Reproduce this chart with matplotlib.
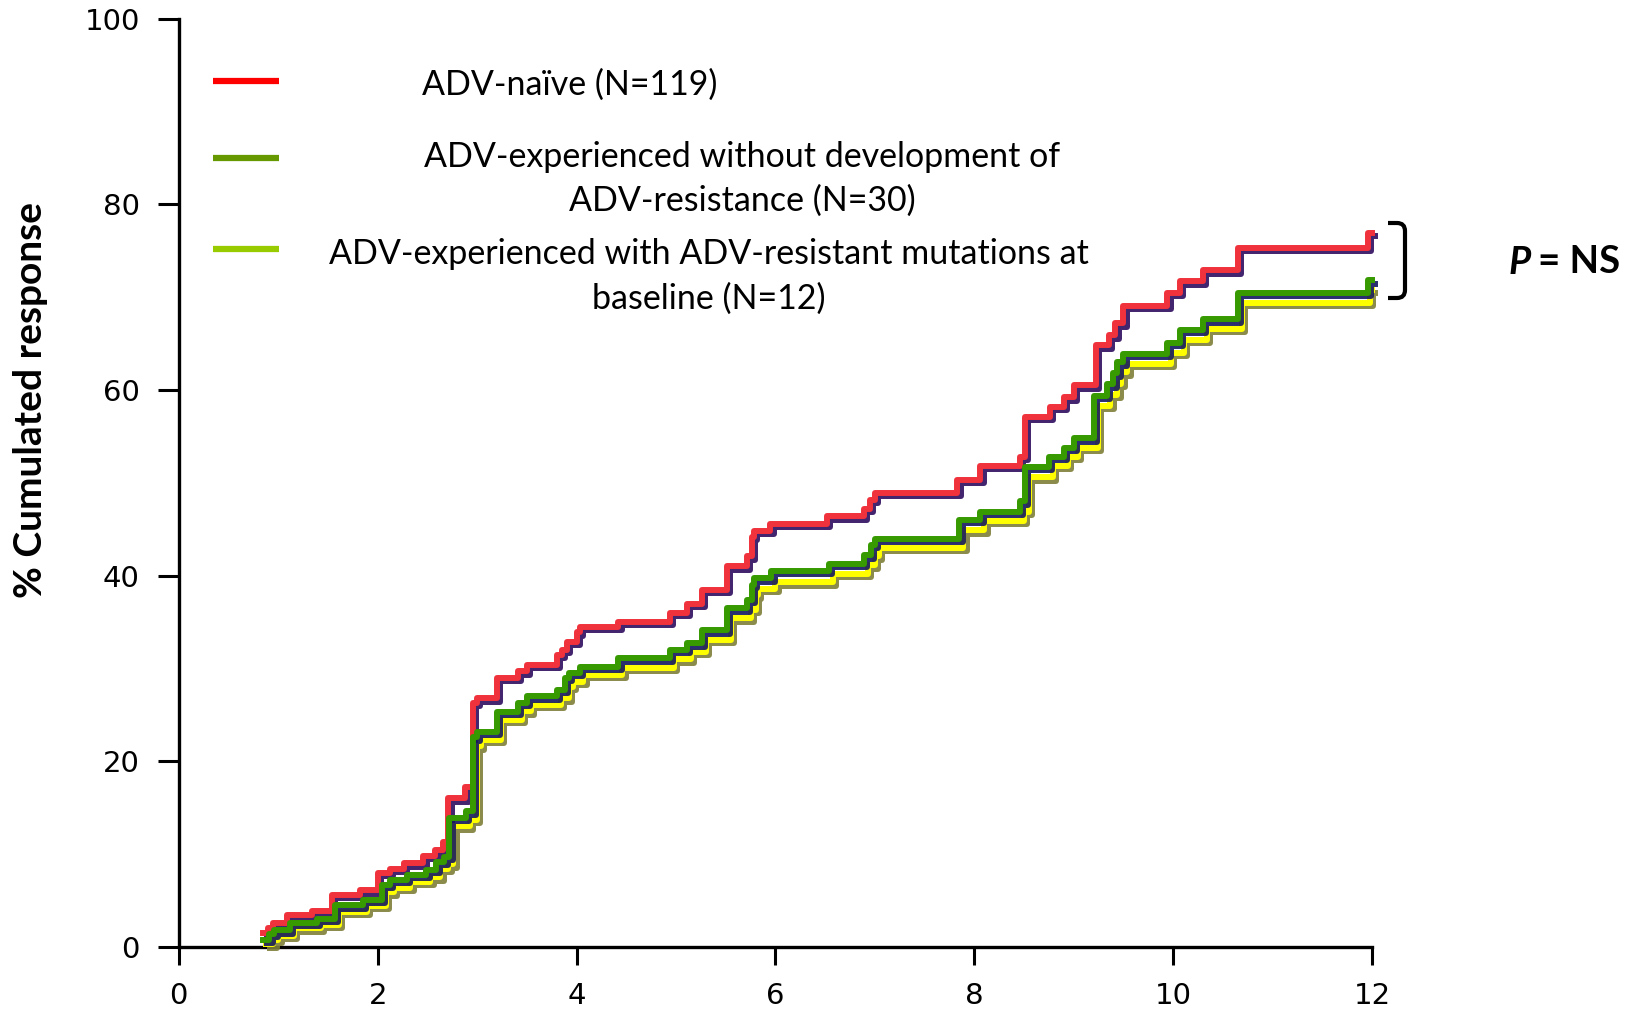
import matplotlib
matplotlib.use("Agg")
import matplotlib.pyplot as plt
import matplotlib.patheffects as pe
from matplotlib.path import Path
from matplotlib.patches import PathPatch
from matplotlib.lines import Line2D

# Cumulative response (%) by month, step curves
naive_t = [0.85, 0.90, 0.95, 1.09, 1.34, 1.54, 1.82, 2.00, 2.12, 2.26, 2.46, 2.58, 2.66,
           2.71, 2.88, 2.96, 3.00, 3.20, 3.41, 3.50, 3.80, 3.85, 3.90, 4.00, 4.03, 4.42,
           4.94, 5.11, 5.26, 5.51, 5.71, 5.76, 5.78, 5.95, 6.52, 6.89, 6.95, 7.00, 7.83,
           8.06, 8.46, 8.51, 8.76, 8.90, 9.00, 9.22, 9.35, 9.42, 9.50, 9.94, 10.07, 10.30,
           10.65, 11.96, 12.00]
naive_pct = [1.5, 2.0, 2.6, 3.4, 3.9, 5.6, 6.1, 8.0, 8.4, 9.0, 9.8, 10.4, 11.3,
             16.0, 17.2, 26.3, 26.8, 29.0, 29.7, 30.4, 31.5, 32.0, 32.9, 33.9, 34.5, 35.0,
             36.0, 37.0, 38.5, 41.0, 42.1, 44.2, 44.8, 45.6, 46.4, 47.2, 48.2, 48.9, 50.3,
             51.8, 52.8, 57.1, 58.2, 59.2, 60.5, 64.8, 65.9, 67.2, 69.1, 70.5, 71.7, 72.9,
             75.3, 76.9, 76.9]

exp_t = [0.85, 0.91, 0.96, 1.12, 1.39, 1.57, 1.85, 2.04, 2.12, 2.29, 2.49, 2.59, 2.67,
         2.72, 2.89, 2.96, 3.00, 3.20, 3.41, 3.50, 3.80, 3.88, 3.92, 4.03, 4.42, 4.94,
         5.11, 5.26, 5.51, 5.71, 5.76, 5.78, 5.96, 6.54, 6.89, 6.96, 7.00, 7.85, 8.06,
         8.46, 8.51, 8.75, 8.90, 9.00, 9.20, 9.33, 9.40, 9.44, 9.50, 9.94, 10.07, 10.30,
         10.65, 11.96, 12.00]
exp_pct = [0.75, 1.4, 1.8, 2.6, 3.0, 4.5, 5.1, 6.7, 7.2, 7.8, 8.3, 9.2, 9.7,
           13.9, 14.6, 22.6, 23.2, 25.3, 26.3, 27.0, 27.7, 29.0, 29.5, 30.2, 31.1, 32.0,
           32.7, 34.1, 36.5, 37.4, 39.0, 39.7, 40.5, 41.3, 42.2, 43.3, 44.0, 46.0, 46.9,
           48.0, 51.7, 52.8, 53.8, 54.8, 59.4, 60.6, 61.8, 63.0, 63.9, 65.1, 66.5, 67.6,
           70.5, 71.8, 71.8]

mut_t = [0.88, 0.95, 1.00, 1.16, 1.43, 1.61, 1.89, 2.08, 2.16, 2.33, 2.53, 2.63, 2.71,
         2.76, 2.93, 3.00, 3.04, 3.24, 3.45, 3.54, 3.84, 3.92, 3.96, 4.07, 4.46, 4.98,
         5.15, 5.30, 5.55, 5.75, 5.80, 5.82, 6.00, 6.58, 6.93, 7.00, 7.04, 7.89, 8.10,
         8.50, 8.55, 8.79, 8.94, 9.04, 9.24, 9.37, 9.44, 9.48, 9.54, 9.98, 10.11, 10.34,
         10.69, 11.98, 12.00]
mut_pct = [0.3, 0.8, 1.2, 2.0, 2.4, 3.8, 4.4, 5.9, 6.4, 7.0, 7.5, 8.4, 8.9,
           13.0, 13.7, 21.6, 22.3, 24.5, 25.4, 26.1, 26.8, 28.0, 28.6, 29.3, 30.1, 31.0,
           31.8, 33.1, 35.4, 36.3, 37.9, 38.6, 39.3, 40.2, 41.1, 42.1, 43.0, 44.9, 45.9,
           46.9, 50.6, 51.8, 52.8, 53.8, 58.3, 59.5, 60.7, 61.9, 62.8, 64.0, 65.4, 66.6,
           69.4, 70.8, 70.8]

labels = ["ADV-naïve (N=119)",
          "ADV-experienced without development of\nADV-resistance (N=30)",
          "ADV-experienced with ADV-resistant mutations at\nbaseline (N=12)"]
legend_colors = ["#ff0000", "#669900", "#99cc00"]

x_ticks = [0, 2, 4, 6, 8, 10, 12]
y_ticks = [0, 20, 40, 60, 80, 100]

TEXT_FONT = ["Lato", "DejaVu Sans"]

W, H = 1630, 1013
fig = plt.figure(figsize=(W / 100, H / 100), dpi=100)
ax = fig.add_axes([178.8 / W, 1 - 947 / H, (1372 - 178.8) / W, (947 - 18.7) / H])


def shadowed(shadow):
    return [pe.SimpleLineShadow(offset=(2.4, -2.4), shadow_color=shadow, alpha=0.9),
            pe.Normal()]


ax.step(naive_t, naive_pct, where="post", color="#f0323c", lw=4.3,
        path_effects=shadowed("#2e0c5e"), zorder=3, clip_on=False)
ax.step(mut_t, mut_pct, where="post", color="#ffff00", lw=4.3,
        path_effects=shadowed("#7e7e38"), zorder=4, clip_on=False)
ax.step(exp_t, exp_pct, where="post", color="#369a00", lw=4.3,
        path_effects=shadowed("#141860"), zorder=5, clip_on=False)

ax.set_xlim(0, 12)
ax.set_ylim(0, 100)
ax.set_xticks(x_ticks)
ax.set_yticks(y_ticks)
for side in ("top", "right"):
    ax.spines[side].set_visible(False)
for side in ("left", "bottom"):
    ax.spines[side].set_linewidth(2.4)
ax.tick_params(axis="y", direction="out", length=15, width=2.2, pad=13, labelsize=21)
ax.tick_params(axis="x", direction="out", length=13, width=2.2, pad=12, labelsize=21)
for lab in ax.get_xticklabels() + ax.get_yticklabels():
    lab.set_fontfamily("DejaVu Sans")

ax.set_ylabel("% Cumulated response", fontsize=28, fontweight="bold",
              family=TEXT_FONT, va="center")
ax.yaxis.set_label_coords((31 - 178.8) / (1372 - 178.8), (947 - 400) / (947 - 18.7))


# legend drawn in figure pixels
def fx(px):
    return px / W


def fy(py):
    return 1 - py / H


legend_rows = [(81, [(570, 85)]), (158, [(742, 157), (742, 201)]),
               (249.5, [(709, 254), (709, 299)])]
for (ly, pos), lab, col in zip(legend_rows, labels, legend_colors):
    fig.add_artist(Line2D([fx(213), fx(279)], [fy(ly), fy(ly)], color=col, lw=4.5,
                          transform=fig.transFigure, solid_capstyle="butt"))
    for (tx, ty), line in zip(pos, lab.split("\n")):
        fig.text(fx(tx), fy(ty), line, ha="center", va="center", fontsize=24.5,
                 family=TEXT_FONT)

# bracket and significance note
bx0, bx1, by0, by1, r = 1388, 1405, 223, 298, 8
verts = [(bx0, by0), (bx1 - r, by0), (bx1, by0), (bx1, by0 + r),
         (bx1, by1 - r), (bx1, by1), (bx1 - r, by1), (bx0, by1)]
codes = [Path.MOVETO, Path.LINETO, Path.CURVE3, Path.CURVE3,
         Path.LINETO, Path.CURVE3, Path.CURVE3, Path.LINETO]
fig.add_artist(PathPatch(Path([(fx(a), fy(b)) for a, b in verts], codes), fill=False,
                         lw=3.0, color="black", transform=fig.transFigure))
fig.text(fx(1531), fy(262), "P", ha="right", va="center", fontsize=27.5,
         fontweight="bold", style="italic", family=TEXT_FONT)
fig.text(fx(1538), fy(262), "= NS", ha="left", va="center", fontsize=27.5,
         fontweight="bold", family=TEXT_FONT)

fig.savefig("out.png", dpi=100)
